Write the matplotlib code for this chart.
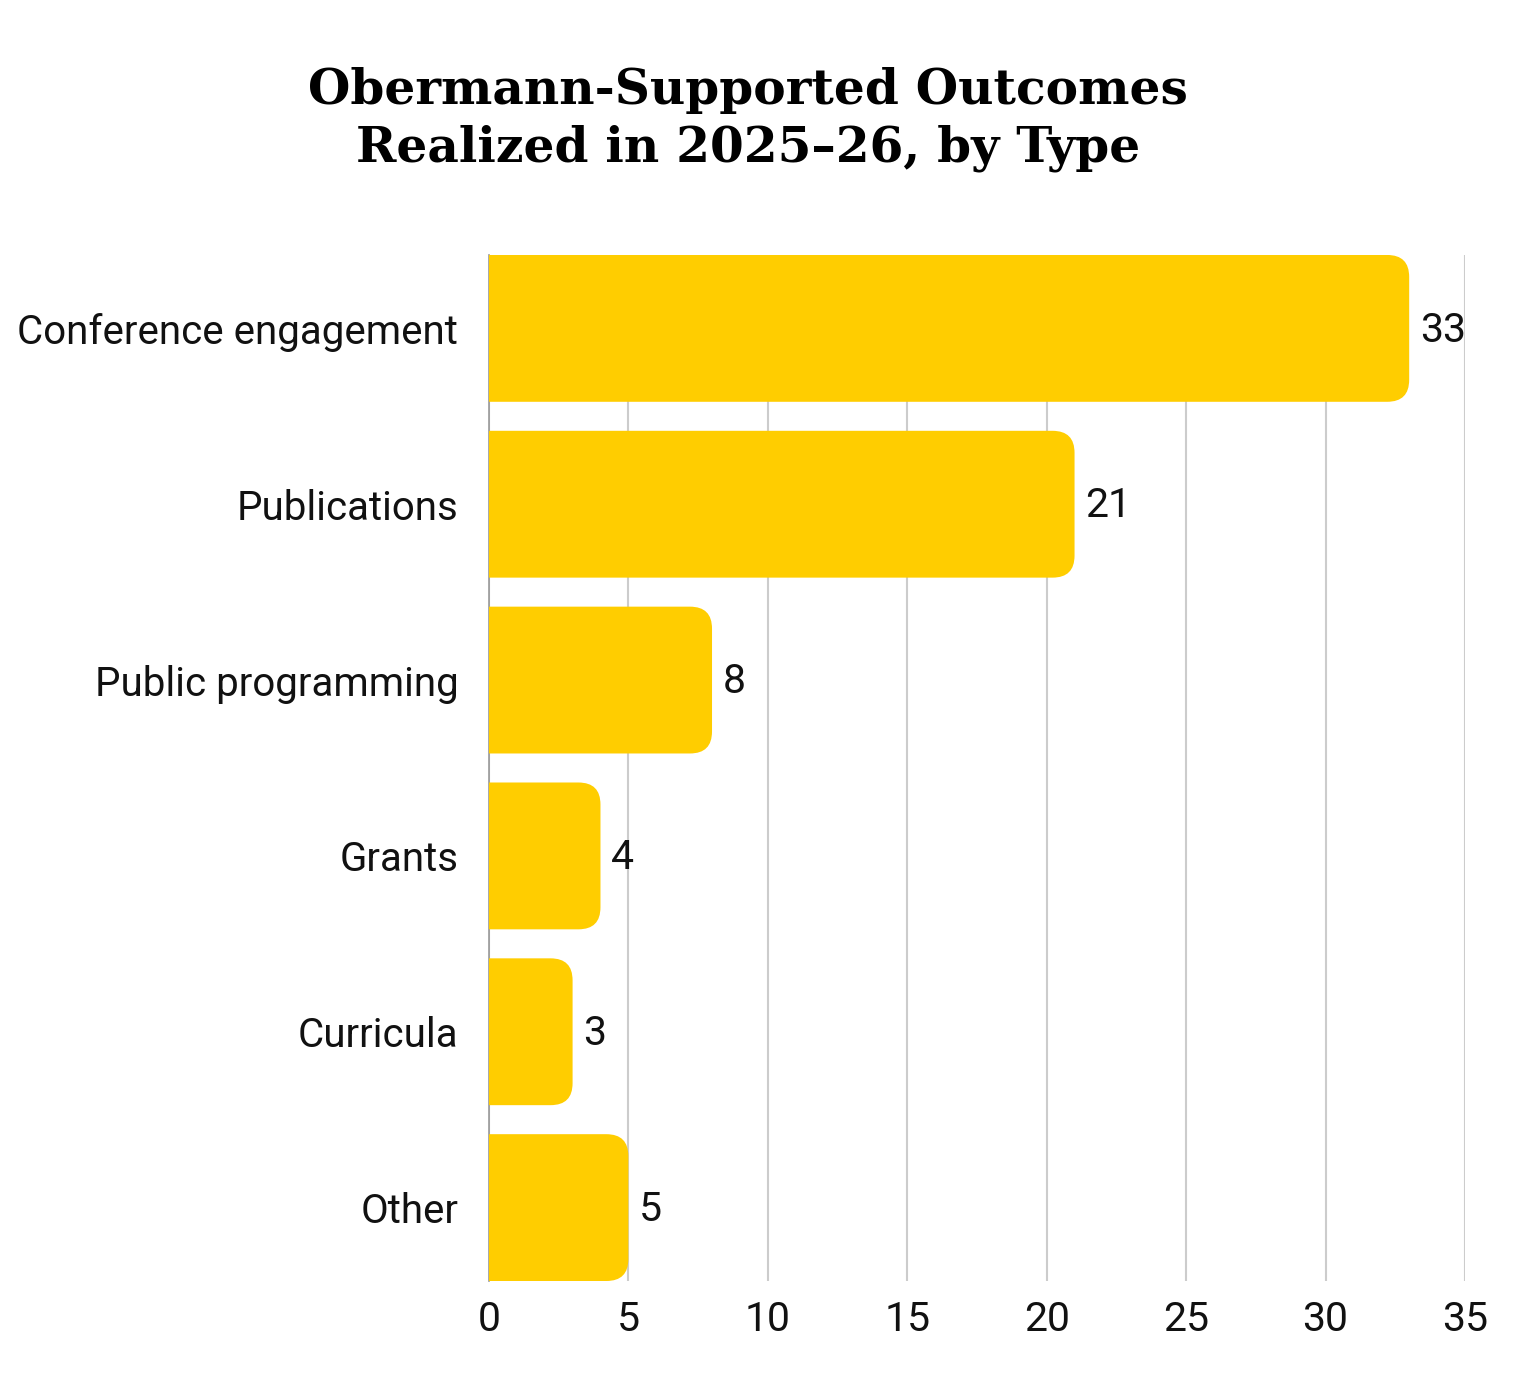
import matplotlib
matplotlib.use("Agg")
import matplotlib.pyplot as plt
from matplotlib.path import Path
from matplotlib.patches import PathPatch

categories = ['Conference engagement', 'Publications', 'Public programming',
              'Grants', 'Curricula', 'Other']
counts = [33, 21, 8, 4, 3, 5]
xticks = [0, 5, 10, 15, 20, 25, 30, 35]

gold = '#FFCD00'
bar_h = 0.835

plt.rcParams['font.family'] = ['Roboto', 'DejaVu Sans']

fig = plt.figure(figsize=(15.26, 13.73), dpi=100)
ax = fig.add_axes([0.3204, 0.0670, 0.6396, 0.7473])

ax.set_xlim(0, 35)
ax.set_ylim(len(categories) - 1 + bar_h / 2, -bar_h / 2)

# corner radius of about 22 px, converted to data units on each axis
px_x = 0.6396 * 1526 / 35.0
px_y = 0.7473 * 1373 / (len(categories) - 1 + bar_h)
rx = 22 / px_x
ry = 22 / px_y


def right_rounded(x0, y0, w, h):
    x1, y1 = x0 + w, y0 + h
    verts = [(x0, y0), (x1 - rx, y0), (x1, y0), (x1, y0 + ry),
             (x1, y1 - ry), (x1, y1), (x1 - rx, y1), (x0, y1), (x0, y0)]
    codes = [Path.MOVETO, Path.LINETO, Path.CURVE3, Path.CURVE3,
             Path.LINETO, Path.CURVE3, Path.CURVE3, Path.LINETO, Path.CLOSEPOLY]
    return Path(verts, codes)


for i, v in enumerate(counts):
    ax.add_patch(PathPatch(right_rounded(0, i - bar_h / 2, v, bar_h),
                           fc=gold, ec='none', zorder=3))
    ax.text(v + 0.38, i + 0.01, str(v), va='center', ha='left', fontsize=29.5, color='#111111')

ax.set_yticks(range(len(categories)))
ax.set_yticklabels(categories, fontsize=29)
ax.set_xticks(xticks)
ax.set_xticklabels([str(t) for t in xticks], fontsize=29.5)
ax.tick_params(axis='both', length=0, colors='#111111')
ax.tick_params(axis='y', pad=22)
ax.tick_params(axis='x', pad=14)

ax.grid(axis='x', color='#cccccc', linewidth=1.5, zorder=0)
ax.set_axisbelow(True)
for s in ['top', 'right', 'bottom']:
    ax.spines[s].set_visible(False)
ax.spines['left'].set_color('#999999')
ax.spines['left'].set_linewidth(1.2)

fig.text(0.49, 0.913, 'Obermann-Supported Outcomes\nRealized in 2025\u201326, by Type',
         ha='center', va='center', fontsize=35, fontweight='bold',
         family=['DejaVu Serif'], linespacing=1.3, color='#000000')

fig.savefig('out.png', dpi=100, facecolor='white')
